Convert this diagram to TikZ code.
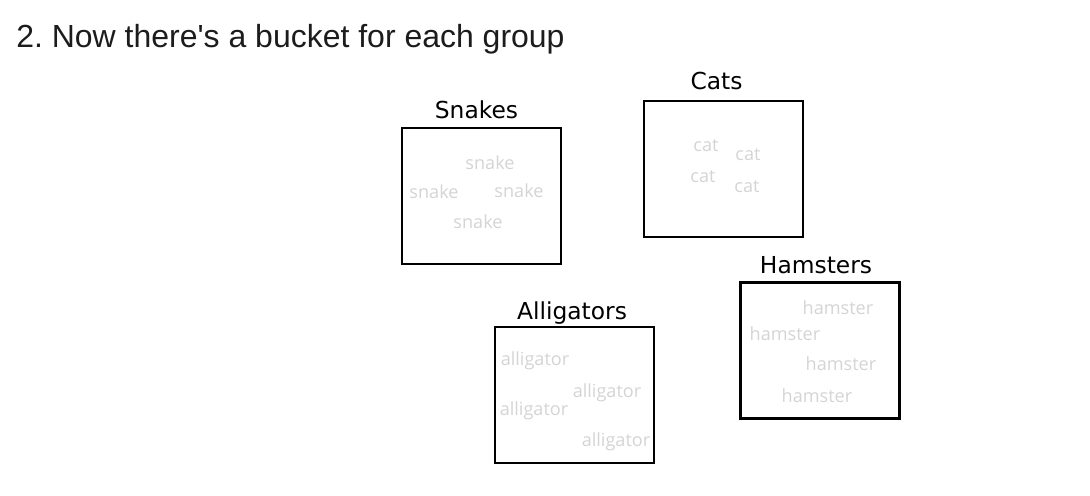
\documentclass[tikz,border=0pt]{standalone}
\usepackage{fontspec}
\newfontfamily\titlefont{Liberation Sans}
\newfontfamily\labelfont{DejaVu Sans}
\newfontfamily\itemfont{Open Sans}
\usetikzlibrary{positioning}
\definecolor{itemgray}{HTML}{D4D4D4}
\definecolor{titleblack}{HTML}{1C1C1C}
\frenchspacing
\tikzset{
	bucket/.style={draw, line width=1.3pt, minimum width=3.18cm, minimum height=2.72cm, inner sep=0pt},
	bucketlabel/.style={font=\labelfont\fontsize{13.3}{16}\selectfont, anchor=base, inner sep=0pt},
	item/.style={font=\itemfont\fontsize{10.3}{12}\selectfont, text=itemgray, inner sep=0pt}
}
\newcommand{\bucket}[6]{
	\node [bucket] (#1) at (#2,#3) {};
	\node [bucketlabel] (#1label) at ([xshift=#4 cm, yshift=#5 cm]#1.north) {#6};
}

\begin{document}
\begin{tikzpicture}[x=0.02cm, y=-0.02cm]
\useasboundingbox (0,0) rectangle (1090,496);
\node [anchor=base west, inner sep=0pt, text=titleblack, font=\titlefont\fontsize{18.2}{21}\selectfont] (title) at (16,48) {2. Now there's a bucket for each group};

\bucket{snakes}{481.5}{196}{-0.1}{0.16}{Snakes}
\bucket{cats}{723.5}{169}{-0.14}{0.2}{Cats}
\bucket{alligators}{574.5}{395}{-0.05}{0.13}{Alligators}
\bucket{hamsters}{820}{350.5}{-0.08}{0.16}{Hamsters}

\foreach \x/\y [count=\i] in {490/163, 434/192, 519/191, 478/222}
	\node [item] (snake\i) at (\x,\y) {snake};
\foreach \x/\y [count=\i] in {706/146, 748/155, 703/177, 747/187}
	\node [item] (cat\i) at (\x,\y) {cat};
\foreach \x/\y [count=\i] in {535/361, 607/393, 534/411, 616/442}
	\node [item] (alligator\i) at (\x,\y) {alligator};
\foreach \x/\y [count=\i] in {838/308, 785/334, 841/364, 817/396}
	\node [item] (hamster\i) at (\x,\y) {hamster};
\end{tikzpicture}
\end{document}
